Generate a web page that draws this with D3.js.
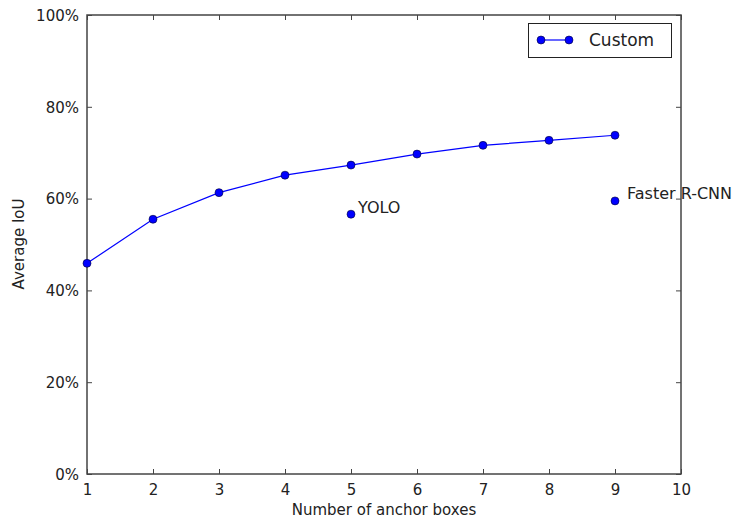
<!DOCTYPE html>
<html>
<head>
<meta charset="utf-8">
<script src="https://cdn.jsdelivr.net/npm/d3@7"></script>
<style>
  html, body { margin: 0; padding: 0; background: #fff; }
  svg text { font-family: "DejaVu Sans", sans-serif; fill: #222; }
</style>
</head>
<body>
<svg id="chart" width="735" height="519"></svg>
<script>
// Average IoU by number of anchor boxes
const anchorCounts = [1, 2, 3, 4, 5, 6, 7, 8, 9];
const customIoU = [0.459, 0.555, 0.613, 0.651, 0.673, 0.697, 0.716, 0.727, 0.738];
const referenceNames = ["YOLO", "Faster R-CNN"];
const referenceAnchors = [5, 9];
const referenceIoU = [0.566, 0.595];
const xTicks = [1, 2, 3, 4, 5, 6, 7, 8, 9, 10];
const yTicks = [0, 0.2, 0.4, 0.6, 0.8, 1.0];

const svg = d3.select("#chart");
const m = { left: 87, right: 681, top: 15, bottom: 474 };

const x = d3.scaleLinear().domain([1, 10]).range([m.left, m.right]);
const y = d3.scaleLinear().domain([0, 1]).range([m.bottom, m.top]);

const frameColor = "#444";

// Axes with inward ticks
const xAxis = svg.append("g")
  .attr("transform", `translate(0,${m.bottom})`)
  .call(d3.axisBottom(x).tickValues(xTicks).tickSize(-5).tickPadding(10).tickFormat(d3.format("d")));
const xTop = svg.append("g")
  .attr("transform", `translate(0,${m.top})`)
  .call(d3.axisTop(x).tickValues(xTicks).tickSize(-5).tickFormat(""));
const yAxis = svg.append("g")
  .attr("transform", `translate(${m.left},0)`)
  .call(d3.axisLeft(y).tickValues(yTicks).tickSize(-5).tickPadding(8).tickFormat(d3.format(".0%")));
const yRight = svg.append("g")
  .attr("transform", `translate(${m.right},0)`)
  .call(d3.axisRight(y).tickValues(yTicks).tickSize(-5).tickFormat(""));

[xAxis, xTop, yAxis, yRight].forEach(g => {
  g.select(".domain").remove();
  g.selectAll(".tick line").attr("stroke", frameColor).attr("stroke-width", 1);
  g.selectAll(".tick text").attr("font-size", 15).attr("fill", "#222")
    .attr("font-family", "DejaVu Sans, sans-serif");
});
yAxis.selectAll(".tick text").attr("dy", "0.35em");

// Frame
svg.append("rect")
  .attr("x", m.left).attr("y", m.top)
  .attr("width", m.right - m.left).attr("height", m.bottom - m.top)
  .attr("fill", "none").attr("stroke", frameColor).attr("stroke-width", 1.5);

// Custom series
const pts = anchorCounts.map((k, i) => [k, customIoU[i]]);
svg.append("path")
  .datum(pts)
  .attr("fill", "none").attr("stroke", "#0000ff").attr("stroke-width", 1.2)
  .attr("d", d3.line().x(d => x(d[0])).y(d => y(d[1])));
svg.append("g").selectAll("circle").data(pts).join("circle")
  .attr("cx", d => x(d[0])).attr("cy", d => y(d[1])).attr("r", 4)
  .attr("fill", "#0000ff").attr("stroke", "#000033").attr("stroke-width", 0.6);

// Reference detectors, each annotated just right of its point
const labelOffset = { "YOLO": [7, -1], "Faster R-CNN": [12, -2] };
const refs = referenceNames.map((n, i) => ({ name: n, k: referenceAnchors[i], v: referenceIoU[i] }));
svg.append("g").selectAll("circle").data(refs).join("circle")
  .attr("cx", d => x(d.k)).attr("cy", d => y(d.v)).attr("r", 4)
  .attr("fill", "#0000ff").attr("stroke", "#000033").attr("stroke-width", 0.6);
svg.append("g").selectAll("text").data(refs).join("text")
  .attr("x", d => x(d.k) + labelOffset[d.name][0])
  .attr("y", d => y(d.v) + labelOffset[d.name][1])
  .attr("font-size", 16)
  .text(d => d.name);

// Legend
const lg = svg.append("g");
lg.append("rect").attr("x", 528.5).attr("y", 23.5).attr("width", 143).attr("height", 34)
  .attr("fill", "#fff").attr("stroke", "#222").attr("stroke-width", 1);
lg.append("line").attr("x1", 541).attr("x2", 569).attr("y1", 40).attr("y2", 40)
  .attr("stroke", "#0000ff").attr("stroke-width", 1.2);
[541, 569].forEach(cx => lg.append("circle").attr("cx", cx).attr("cy", 40).attr("r", 4)
  .attr("fill", "#0000ff").attr("stroke", "#000033").attr("stroke-width", 0.6));
lg.append("text").attr("x", 589).attr("y", 46).attr("font-size", 17).text("Custom");

// Axis titles
svg.append("text").attr("x", 384).attr("y", 515)
  .attr("text-anchor", "middle").attr("font-size", 15).text("Number of anchor boxes");
svg.append("text").attr("transform", `translate(24,244) rotate(-90)`)
  .attr("text-anchor", "middle").attr("font-size", 15).text("Average IoU");
</script>
</body>
</html>
